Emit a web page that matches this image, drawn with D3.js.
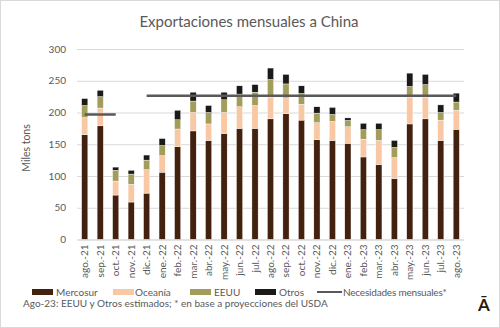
<!DOCTYPE html>
<html>
<head>
<meta charset="utf-8">
<script src="https://cdn.jsdelivr.net/npm/d3@7"></script>
<style>
  html, body { margin: 0; padding: 0; background: #fff; }
  svg { display: block; font-family: Lato, "Open Sans", sans-serif; }
</style>
</head>
<body>
<div id="chart"></div>
<script>
const width = 500;
const height = 328;

// Data
const months = ["ago.-21","sep.-21","oct.-21","nov.-21","dic.-21","ene.-22","feb.-22","mar.-22","abr.-22","may.-22","jun.-22","jul.-22","ago.-22","sep.-22","oct.-22","nov.-22","dic.-22","ene.-23","feb.-23","mar.-23","abr.-23","may.-23","jun.-23","jul.-23","ago.-23"];
const mercosur = [165,179,70,59,73,106,146,171,156,167,175,175,190,198,188,157,156,151.5,130,118,96,182,190,156,173.5];
const oceania  = [27,28,22,28,37,26,28,29,26,33,34,36,34,25,25,27,30,26,28,38,33,42,34,32,30];
const eeuu     = [19,18,17,16,15,16,14.5,18,18,20,20,21,28,22,17,15,11,10,15,17,16,17,20,12,13];
const otros    = [11,10,5,6,8,11,15,14,11,12,13,12,18,15,12,10,11,4,10,10,11,21,16,12,14];
const necesidades = [197,197,197,null,226.5,226.5,226.5,226.5,226.5,226.5,226.5,226.5,226.5,226.5,226.5,226.5,226.5,226.5,226.5,226.5,226.5,226.5,226.5,226.5,226.5];
const seriesNames = ["Mercosur","Oceanía","EEUU","Otros"];
const seriesColors = ["#43210f","#f8c8a4","#a29d5a","#1c1919"];
const yTicks = [0,50,100,150,200,250,300];

const table = months.map((m, i) => ({
  month: m,
  "Mercosur": mercosur[i],
  "Oceanía": oceania[i],
  "EEUU": eeuu[i],
  "Otros": otros[i],
  need: necesidades[i]
}));

const svg = d3.select("#chart").append("svg")
  .attr("width", width)
  .attr("height", height);

// frame
svg.append("rect")
  .attr("x", 0.5).attr("y", 0.5)
  .attr("width", width - 1).attr("height", height - 1)
  .attr("fill", "#fff").attr("stroke", "#d9d9d9");

const margin = {left: 77, right: 36, top: 49, bottom: 88.5};

const x = d3.scaleBand()
  .domain(months)
  .range([margin.left, width - margin.right])
  .paddingInner(0.6)
  .paddingOuter(0.3);

const y = d3.scaleLinear()
  .domain([0, 300])
  .range([height - margin.bottom, margin.top]);

// title
svg.append("text")
  .attr("x", 249).attr("y", 27)
  .attr("text-anchor", "middle")
  .attr("font-size", 15)
  .attr("fill", "#595959")
  .text("Exportaciones mensuales a China");

// gridlines + y labels
const yAxis = svg.append("g")
  .attr("transform", `translate(${margin.left},0)`)
  .call(d3.axisLeft(y).tickValues(yTicks).tickSize(-(width - margin.left - margin.right)).tickPadding(11));
yAxis.select(".domain").remove();
yAxis.selectAll(".tick line").attr("stroke", "#d9d9d9");
yAxis.selectAll(".tick text")
  .attr("fill", "#595959")
  .attr("font-size", 10)
  .attr("font-family", "Lato, sans-serif");

svg.append("text")
  .attr("transform", `translate(30,148) rotate(-90)`)
  .attr("text-anchor", "middle")
  .attr("font-size", 10.5)
  .attr("fill", "#595959")
  .text("Miles tons");

// stacked bars
const stack = d3.stack().keys(seriesNames)(table);
svg.append("g").selectAll("g")
  .data(stack)
  .join("g")
  .attr("fill", (d, i) => seriesColors[i])
  .selectAll("rect")
  .data(d => d)
  .join("rect")
  .attr("x", d => x(d.data.month))
  .attr("width", x.bandwidth())
  .attr("y", d => y(d[1]))
  .attr("height", d => y(d[0]) - y(d[1]))
  .attr("stroke", "#fff")
  .attr("stroke-width", 0.4);

// x axis
const xAxis = svg.append("g")
  .attr("transform", `translate(0,${y(0)})`)
  .call(d3.axisBottom(x).tickSize(0).tickPadding(5));
xAxis.select(".domain").attr("stroke", "#d9d9d9");
xAxis.selectAll(".tick text")
  .attr("fill", "#595959")
  .attr("font-size", 10)
  .attr("font-family", "Lato, sans-serif")
  .attr("transform", "rotate(-90)")
  .attr("text-anchor", "end")
  .attr("dy", "0.35em")
  .attr("x", -5)
  .attr("y", 0);

// necesidades line
const line = d3.line()
  .defined(d => d.need != null)
  .x(d => x(d.month) + x.bandwidth() / 2)
  .y(d => y(d.need));
svg.append("path")
  .datum(table)
  .attr("fill", "none")
  .attr("stroke", "#595959")
  .attr("stroke-width", 2.5)
  .attr("d", line);

// legend
const legend = svg.append("g").attr("transform", "translate(0,292)");
const legendItems = [
  {name: "Mercosur", color: seriesColors[0], x: 32, tx: 56},
  {name: "Oceanía", color: seriesColors[1], x: 113, tx: 135},
  {name: "EEUU", color: seriesColors[2], x: 190, tx: 214},
  {name: "Otros", color: seriesColors[3], x: 255, tx: 279}
];
legendItems.forEach(it => {
  legend.append("rect")
    .attr("x", it.x).attr("y", -3)
    .attr("width", 21).attr("height", 6)
    .attr("fill", it.color);
  legend.append("text")
    .attr("x", it.tx).attr("y", 0)
    .attr("dy", "0.35em")
    .attr("font-size", 10)
    .attr("fill", "#595959")
    .text(it.name);
});
legend.append("line")
  .attr("x1", 317).attr("x2", 342)
  .attr("y1", 0).attr("y2", 0)
  .attr("stroke", "#595959").attr("stroke-width", 2);
legend.append("text")
  .attr("x", 343).attr("y", 0)
  .attr("dy", "0.35em")
  .attr("font-size", 10)
  .attr("fill", "#595959")
  .attr("letter-spacing", -0.2)
  .text("Necesidades mensuales*");

// footnote
svg.append("text")
  .attr("x", 23).attr("y", 307)
  .attr("font-size", 10)
  .attr("fill", "#595959")
  .text("Ago-23: EEUU  y Otros estimados; * en base a proyecciones del USDA");

// logo mark
svg.append("text")
  .attr("x", 484).attr("y", 311)
  .attr("text-anchor", "middle")
  .attr("font-size", 17)
  .attr("font-weight", "bold")
  .attr("fill", "#2a1a0e")
  .text("Ā");
</script>
</body>
</html>
